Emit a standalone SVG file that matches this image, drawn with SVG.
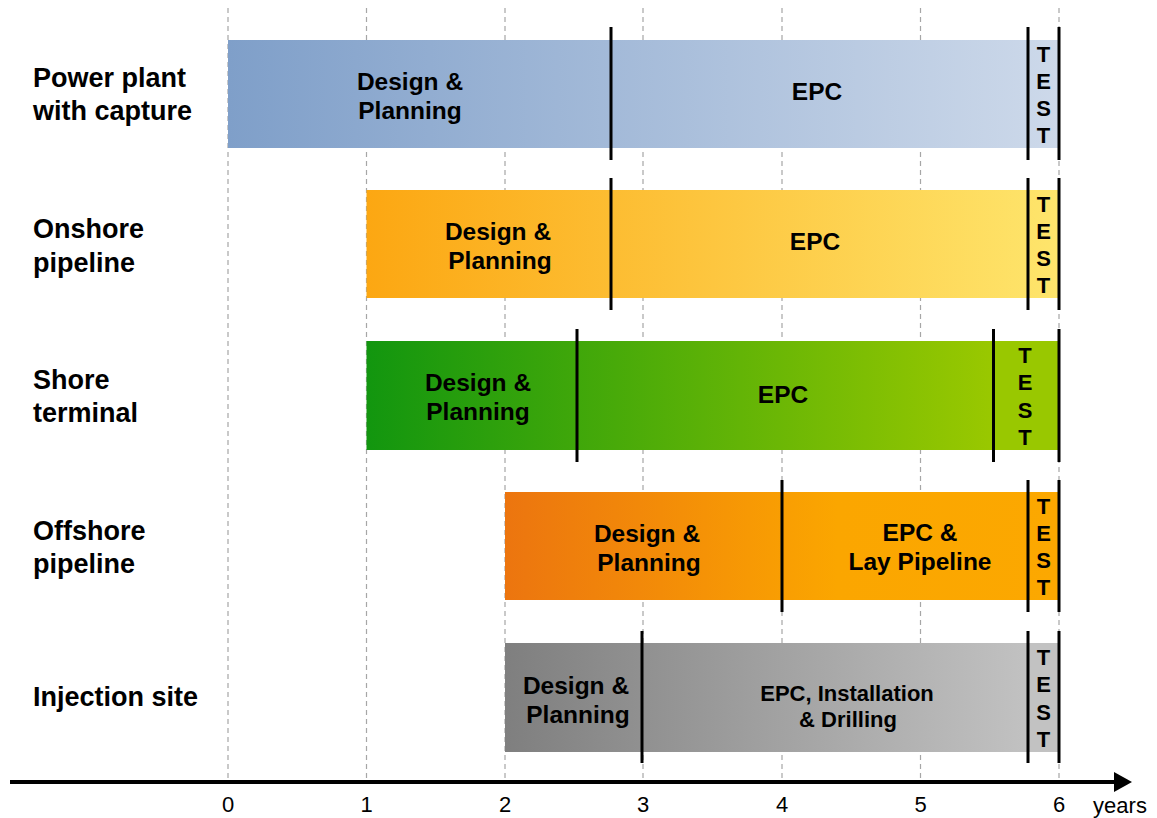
<svg xmlns="http://www.w3.org/2000/svg" width="1157" height="818" viewBox="0 0 1157 818">
<style>
.grid{stroke:#a6a6a6;stroke-width:1.2;stroke-dasharray:5,4;fill:none}
.div{stroke:#000;stroke-width:3}
.lbl{font-family:"Liberation Sans",Arial,sans-serif;font-weight:bold;font-size:27px;fill:#000}
.bt{font-family:"Liberation Sans",Arial,sans-serif;font-weight:bold;font-size:24.5px;fill:#000;text-anchor:middle}
.bs{font-family:"Liberation Sans",Arial,sans-serif;font-weight:bold;font-size:22px;fill:#000;text-anchor:middle}
.tst{font-family:"Liberation Sans",Arial,sans-serif;font-weight:bold;font-size:22px;fill:#000;text-anchor:middle}
.ax{font-family:"Liberation Sans",Arial,sans-serif;font-size:22px;fill:#000;text-anchor:middle}
</style>
<defs>
<linearGradient id="g1" x1="0" x2="1" y1="0" y2="0"><stop offset="0" stop-color="#7f9fc9"/><stop offset="1" stop-color="#cdd9ea"/></linearGradient>
<linearGradient id="g2" x1="0" x2="1" y1="0" y2="0"><stop offset="0" stop-color="#fca712"/><stop offset="1" stop-color="#fee56c"/></linearGradient>
<linearGradient id="g3" x1="0" x2="1" y1="0" y2="0"><stop offset="0" stop-color="#12960f"/><stop offset="0.9" stop-color="#99c800"/><stop offset="1" stop-color="#99c800"/></linearGradient>
<linearGradient id="g4" x1="0" x2="1" y1="0" y2="0"><stop offset="0" stop-color="#ec750f"/><stop offset="0.6" stop-color="#fba600"/><stop offset="1" stop-color="#fca800"/></linearGradient>
<linearGradient id="g5" x1="0" x2="1" y1="0" y2="0"><stop offset="0" stop-color="#7f7f7f"/><stop offset="0.95" stop-color="#c2c2c2"/><stop offset="1" stop-color="#c2c2c2"/></linearGradient>
</defs>
<rect width="1157" height="818" fill="#fff"/>
<g id="grid">
<line class="grid" x1="228" y1="8" x2="228" y2="780"/>
<line class="grid" x1="366.5" y1="8" x2="366.5" y2="780"/>
<line class="grid" x1="505" y1="8" x2="505" y2="780"/>
<line class="grid" x1="643" y1="8" x2="643" y2="780"/>
<line class="grid" x1="782" y1="8" x2="782" y2="780"/>
<line class="grid" x1="920.5" y1="8" x2="920.5" y2="780"/>
<line class="grid" x1="1059" y1="8" x2="1059" y2="780"/>
</g>
<g id="row-power-plant">
<text class="lbl" x="33" y="87">Power plant</text>
<text class="lbl" x="33" y="120">with capture</text>
<rect x="228" y="40" width="831" height="108" fill="url(#g1)"/>
<text class="bt" x="410" y="90">Design &amp;</text>
<text class="bt" x="410" y="119">Planning</text>
<text class="bt" x="817" y="100">EPC</text>
<line class="div" x1="611" y1="27" x2="611" y2="160"/>
<line class="div" x1="1028" y1="27" x2="1028" y2="160"/>
<line class="div" x1="1059" y1="27" x2="1059" y2="160"/>
<text class="tst" x="1043.5" y="62">T</text><text class="tst" x="1043.5" y="89">E</text><text class="tst" x="1043.5" y="116">S</text><text class="tst" x="1043.5" y="143">T</text>
</g>
<g id="row-onshore">
<text class="lbl" x="33" y="238">Onshore</text>
<text class="lbl" x="33" y="272">pipeline</text>
<rect x="366.5" y="190" width="692.5" height="108" fill="url(#g2)"/>
<text class="bt" x="498" y="240">Design &amp;</text>
<text class="bt" x="500" y="269">Planning</text>
<text class="bt" x="815" y="250">EPC</text>
<line class="div" x1="611" y1="178" x2="611" y2="310"/>
<line class="div" x1="1028" y1="178" x2="1028" y2="310"/>
<line class="div" x1="1059" y1="178" x2="1059" y2="310"/>
<text class="tst" x="1043.5" y="212">T</text><text class="tst" x="1043.5" y="239">E</text><text class="tst" x="1043.5" y="266">S</text><text class="tst" x="1043.5" y="293">T</text>
</g>
<g id="row-shore-terminal">
<text class="lbl" x="33" y="389">Shore</text>
<text class="lbl" x="33" y="422">terminal</text>
<rect x="366.5" y="341" width="692.5" height="109" fill="url(#g3)"/>
<text class="bt" x="478" y="391">Design &amp;</text>
<text class="bt" x="478" y="420">Planning</text>
<text class="bt" x="783" y="403">EPC</text>
<line class="div" x1="577" y1="329" x2="577" y2="462"/>
<line class="div" x1="993.5" y1="329" x2="993.5" y2="462"/>
<line class="div" x1="1059" y1="329" x2="1059" y2="462"/>
<text class="tst" x="1025" y="363">T</text><text class="tst" x="1025" y="390">E</text><text class="tst" x="1025" y="418">S</text><text class="tst" x="1025" y="445">T</text>
</g>
<g id="row-offshore">
<text class="lbl" x="33" y="540">Offshore</text>
<text class="lbl" x="33" y="573">pipeline</text>
<rect x="505" y="492" width="554" height="108" fill="url(#g4)"/>
<text class="bt" x="647" y="542">Design &amp;</text>
<text class="bt" x="649" y="571">Planning</text>
<text class="bt" x="920" y="541">EPC &amp;</text>
<text class="bt" x="920" y="570">Lay Pipeline</text>
<line class="div" x1="782" y1="480" x2="782" y2="612"/>
<line class="div" x1="1028" y1="480" x2="1028" y2="612"/>
<line class="div" x1="1059" y1="480" x2="1059" y2="612"/>
<text class="tst" x="1043.5" y="514">T</text><text class="tst" x="1043.5" y="541">E</text><text class="tst" x="1043.5" y="568">S</text><text class="tst" x="1043.5" y="595">T</text>
</g>
<g id="row-injection">
<text class="lbl" x="33" y="706">Injection site</text>
<rect x="505" y="643" width="554" height="109" fill="url(#g5)"/>
<text class="bt" x="576" y="694">Design &amp;</text>
<text class="bt" x="578" y="723">Planning</text>
<text class="bs" x="847" y="701">EPC, Installation</text>
<text class="bs" x="848" y="727">&amp; Drilling</text>
<line class="div" x1="642" y1="631" x2="642" y2="763"/>
<line class="div" x1="1028" y1="631" x2="1028" y2="763"/>
<line class="div" x1="1059" y1="631" x2="1059" y2="763"/>
<text class="tst" x="1043.5" y="665">T</text><text class="tst" x="1043.5" y="692">E</text><text class="tst" x="1043.5" y="720">S</text><text class="tst" x="1043.5" y="747">T</text>
</g>
<g id="connectors">
<line x1="10" y1="782" x2="1117" y2="782" stroke="#000" stroke-width="4"/>
<polygon points="1114,772 1132,782 1114,792" fill="#000"/>
</g>
<g id="axis-labels">
<text class="ax" x="228" y="812">0</text>
<text class="ax" x="366.5" y="812">1</text>
<text class="ax" x="505" y="812">2</text>
<text class="ax" x="643" y="812">3</text>
<text class="ax" x="782" y="812">4</text>
<text class="ax" x="920.5" y="812">5</text>
<text class="ax" x="1059" y="812">6</text>
<text class="ax" x="1120" y="813" font-size="22">years</text>
</g>
</svg>
